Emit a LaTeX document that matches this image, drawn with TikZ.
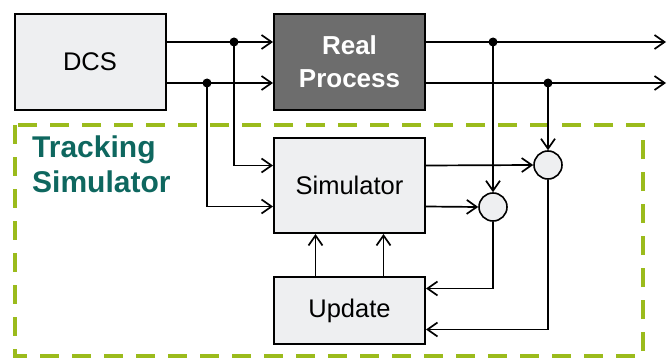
\documentclass[tikz,border=0pt]{standalone}
\usepackage{fontspec}
\setmainfont{Liberation Sans}
\usetikzlibrary{arrows.meta}
\definecolor{boxgray}{HTML}{EEEFF1}
\definecolor{realgray}{HTML}{6D6D6D}
\definecolor{trackgreen}{HTML}{9BBB1C}
\definecolor{trackteal}{HTML}{0E675F}
\tikzset{
  blockbox/.style={draw, line width=2pt, fill=boxgray, minimum width=151pt, inner sep=0pt,
    font=\fontsize{25.5}{30}\selectfont},
  sumcircle/.style={draw, line width=1.6pt, fill=boxgray, circle, minimum size=28pt, inner sep=0pt},
  sig/.style={line width=1.7pt, -{Straight Barb[length=10pt,width=14pt,line width=1.7pt]}},
  dot/.style={fill, circle, inner sep=0pt, minimum size=9pt},
}
\begin{document}
\begin{tikzpicture}[x=1pt,y=-1pt]
                \useasboundingbox (0,0) rectangle (668,358);
                % tracking simulator frame
                \draw[trackgreen, line width=4.5pt, dash pattern=on 19pt off 13pt] (15,125) rectangle (643,356);
                \node[anchor=north west, align=left, text=trackteal, font=\bfseries\fontsize{30}{35}\selectfont,
                  inner sep=0pt] (track) at (32,136) {Tracking\\Simulator};
                % blocks
                \node[blockbox, minimum height=96pt] (dcs) at (90,62) {DCS};
                \node[blockbox, minimum height=96pt, fill=realgray, text=white, align=center,
                  font=\bfseries\fontsize{26}{33}\selectfont] (real) at (349.5,62) {Real\\Process};
                \node[blockbox, minimum height=95pt] (sim) at (349.5,185.5) {Simulator};
                \node[blockbox, minimum height=67pt] (upd) at (349.5,310.5) {Update};
                \node[sumcircle] (sumA) at (493,207) {};
                \node[sumcircle] (sumB) at (548,165) {};
                % branch points
                \node[dot] (j1) at (234,42) {};
                \node[dot] (j2) at (207,83) {};
                \node[dot] (j3) at (493,42) {};
                \node[dot] (j4) at (548,83) {};
                \coordinate (outA) at (666,42);
                \coordinate (outB) at (666,83);
                % signals
                \draw[sig] (dcs.east |- j1) -- (j1.center) -- (real.west |- j1);
                \draw[sig] (dcs.east |- j2) -- (j2.center) -- (real.west |- j2);
                \draw[sig] (j1.center) |- ([yshift=20pt]sim.west);
                \draw[sig] (j2.center) |- ([yshift=-21pt]sim.west);
                \draw[sig] (real.east |- j3) -- (j3.center) -- (outA);
                \draw[sig] (real.east |- j4) -- (j4.center) -- (outB);
                \draw[sig] (j3.center) -- (sumA.north);
                \draw[sig] (j4.center) -- (sumB.north);
                \draw[sig] ([yshift=20pt]sim.east) -- (sumB.west);
                \draw[sig] ([yshift=-21pt]sim.east) -- (sumA.west);
                \draw[sig] (sumA.south) |- ([yshift=22pt]upd.east);
                \draw[sig] (sumB.south) |- ([yshift=-19pt]upd.east);
                \draw[sig] ([xshift=-34pt]upd.north) -- ([xshift=-34pt]sim.south);
                \draw[sig] ([xshift=34pt]upd.north) -- ([xshift=34pt]sim.south);
            \end{tikzpicture}
\end{document}
